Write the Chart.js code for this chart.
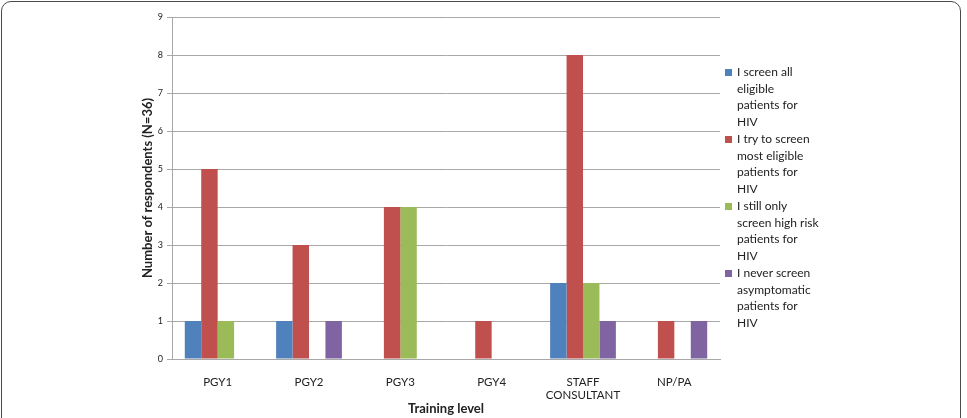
<!DOCTYPE html>
<html>
<head>
<meta charset="utf-8">
<script src="https://cdn.jsdelivr.net/npm/chart.js@4/dist/chart.umd.min.js"></script>
<style>
  html, body { margin: 0; padding: 0; background: #fff; }
  #wrap { position: relative; width: 967px; height: 418px; overflow: hidden; }
  #frame { position: absolute; left: 1px; top: 1px; width: 958px; height: 440px;
           border: 1.5px solid #4a4a4a; border-radius: 10px; }
  #chart { position: absolute; left: 0; top: 0; }
  #legend { position: absolute; left: 725px; top: 64px; font-family: Lato, sans-serif;
            font-size: 12px; color: #222; }
  .item { position: relative; padding-left: 12px; margin-bottom: 1px; }
  .item .sw { position: absolute; left: 0; top: 5px; width: 7px; height: 7px; }
  .item div.ln { line-height: 16.5px; white-space: nowrap; }
</style>
</head>
<body>
<div id="wrap">
  <div id="frame"></div>
  <canvas id="chart" width="967" height="418"></canvas>
  <div id="legend"></div>
</div>
<script>
var categories = ['PGY1', 'PGY2', 'PGY3', 'PGY4', ['STAFF', 'CONSULTANT'], 'NP/PA'];

var seriesLines = [
    ['I screen all', 'eligible', 'patients for', 'HIV'],
    ['I try to screen', 'most eligible', 'patients for', 'HIV'],
    ['I still only', 'screen high risk', 'patients for', 'HIV'],
    ['I never screen', 'asymptomatic', 'patients for', 'HIV']
];

var screenAll   = [1, 1, 0, 0, 2, 0];
var screenMost  = [5, 3, 4, 1, 8, 1];
var highRisk    = [1, 0, 4, 0, 2, 0];
var neverScreen = [0, 1, 0, 0, 1, 1];

var yTicks = [0, 1, 2, 3, 4, 5, 6, 7, 8, 9];

var colors = ['#4F81BD', '#C0504D', '#9BBB59', '#8064A2'];
var values = [screenAll, screenMost, highRisk, neverScreen];

var datasets = [];
for (var i = 0; i < values.length; i++) {
    datasets.push({
        label: seriesLines[i].join(' '),
        data: values[i],
        backgroundColor: colors[i],
        borderWidth: 0,
        categoryPercentage: 0.72,
        barPercentage: 1.0
    });
}

var gridColor = '#a8a8a8';

new Chart(document.getElementById('chart'), {
    type: 'bar',
    data: { labels: categories, datasets: datasets },
    options: {
        responsive: false,
        animation: false,
        layout: { padding: { top: 17, right: 247, left: 140, bottom: 0 } },
        plugins: { legend: { display: false }, tooltip: { enabled: false } },
        scales: {
            x: {
                grid: { display: false },
                border: { display: true, color: gridColor, width: 1 },
                ticks: {
                    color: '#222',
                    padding: 8,
                    maxRotation: 0,
                    autoSkip: false,
                    font: { family: 'Lato, sans-serif', size: 11.5 }
                },
                title: {
                    display: true,
                    text: 'Training level',
                    color: '#222',
                    padding: { top: 0, bottom: 1 },
                    font: { family: 'Lato, sans-serif', size: 13, weight: 'bold' }
                },
                afterFit: function(scale) { scale.height = 59; }
            },
            y: {
                min: 0,
                max: 9,
                afterBuildTicks: function(scale) {
                    scale.ticks = yTicks.map(function(v) { return { value: v }; });
                },
                grid: { color: gridColor, tickLength: 5, lineWidth: 1 },
                border: { display: true, color: gridColor, width: 1 },
                ticks: {
                    color: '#222',
                    padding: 4,
                    font: { family: 'Lato, sans-serif', size: 9 }
                },
                title: {
                    display: true,
                    text: 'Number of respondents (N=36)',
                    color: '#222',
                    padding: 0,
                    font: { family: 'Lato, sans-serif', size: 13, weight: 'bold' }
                },
                afterFit: function(scale) { scale.width = 32; }
            }
        }
    }
});

// legend on the right, one line per text row
var legend = document.getElementById('legend');
for (var k = 0; k < seriesLines.length; k++) {
    var item = document.createElement('div');
    item.className = 'item';
    var sw = document.createElement('span');
    sw.className = 'sw';
    sw.style.background = colors[k];
    item.appendChild(sw);
    for (var j = 0; j < seriesLines[k].length; j++) {
        var ln = document.createElement('div');
        ln.className = 'ln';
        ln.textContent = seriesLines[k][j];
        item.appendChild(ln);
    }
    legend.appendChild(item);
}
</script>
</body>
</html>
